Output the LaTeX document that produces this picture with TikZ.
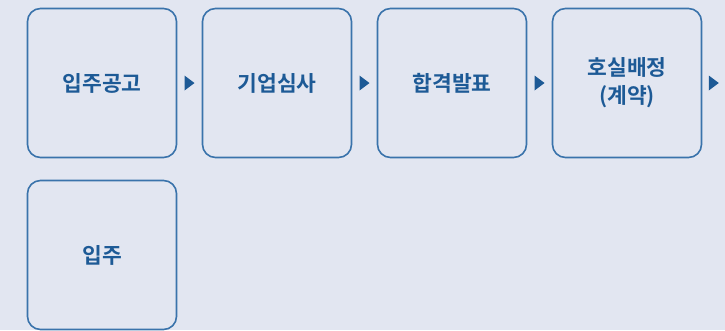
\documentclass[tikz,border=0pt]{standalone}
\usepackage{fontspec}
\newfontfamily\kofont{Noto Sans CJK KR Bold}
\usepackage{tikz}
\usetikzlibrary{calc}

\definecolor{bgcol}{HTML}{E2E6F1}
\definecolor{linecol}{HTML}{3A73AB}
\definecolor{textcol}{HTML}{1D5A96}

\tikzset{
  stepbox/.style={draw=linecol, line width=1.6pt, rounded corners=13pt,
    minimum width=149pt, minimum height=149pt, inner sep=0pt,
    text=textcol, align=center, font=\kofont\fontsize{21.5}{28}\selectfont},
  tipfill/.style={fill=textcol}
}

\begin{document}
\begin{tikzpicture}[x=1pt, y=-1pt]
			% Fondo
			\fill[bgcol] (0,0) rectangle (725,330);

			% Primera fila
			\node[stepbox] (gonggo) at (102,83) {입주공고};
			\node[stepbox] (simsa) at (277,83) {기업심사};
			\node[stepbox] (balpyo) at (452,83) {합격발표};
			\node[stepbox] (baejeong) at (627,83) {호실배정\\(계약)};

			% Segunda fila
			\node[stepbox] (ipju) at (102,255) {입주};

			% Flechas
			\path (gonggo.east) -- (simsa.west) coordinate[midway] (t1);
			\path (simsa.east) -- (balpyo.west) coordinate[midway] (t2);
			\path (balpyo.east) -- (baejeong.west) coordinate[midway] (t3);
			\coordinate (t4) at ($(baejeong.east)+(11.5,0)$);
			\foreach \t in {t1,t2,t3,t4}
				\fill[tipfill] ($(\t)+(-5,-7.5)$) -- ($(\t)+(5,0)$) -- ($(\t)+(-5,7.5)$) -- cycle;
		\end{tikzpicture}
\end{document}
